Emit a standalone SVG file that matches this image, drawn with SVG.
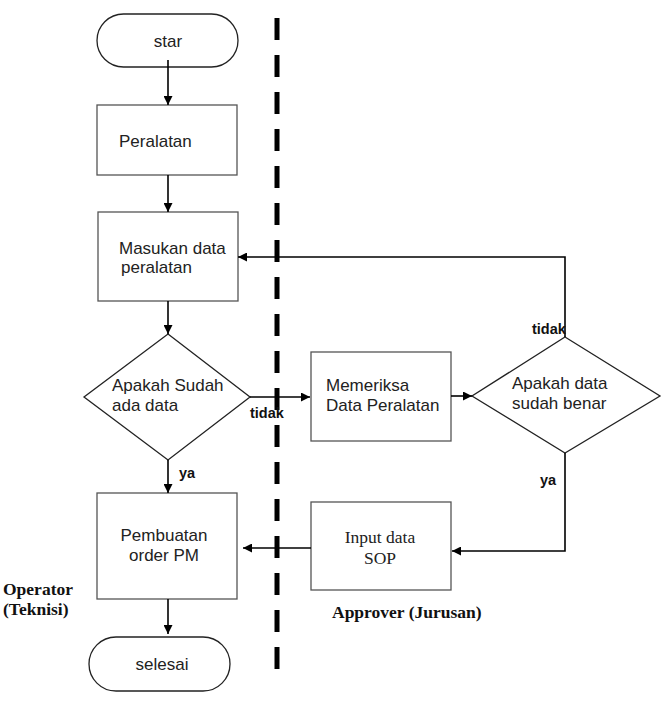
<svg xmlns="http://www.w3.org/2000/svg" width="665" height="715" viewBox="0 0 665 715">
<style>
.box{fill:#fff;stroke:#555;stroke-width:1.3}
.term{fill:#fff;stroke:#222;stroke-width:1.3}
.dia{fill:#fff;stroke:#222;stroke-width:1.3}
.t{font-family:"Liberation Sans",Arial,sans-serif;font-size:17px;fill:#222}
.s{font-family:"Liberation Serif","Times New Roman",serif;font-size:17.5px;fill:#222}
.b{font-family:"Liberation Sans",Arial,sans-serif;font-size:14.5px;font-weight:bold;fill:#111}
.bs{font-family:"Liberation Serif","Times New Roman",serif;font-size:17.5px;font-weight:bold;fill:#111}
.c{fill:none;stroke:#000;stroke-width:1.6}
</style>
<defs>
<marker id="ah" viewBox="0 0 10 10" refX="10" refY="5" markerWidth="10" markerHeight="9" markerUnits="userSpaceOnUse" orient="auto">
<path d="M0,0 L10,5 L0,10 z" fill="#000"/>
</marker>
</defs>
<line x1="277" y1="18" x2="277" y2="672" stroke="#000" stroke-width="5" stroke-dasharray="22 15"/>
<g id="start"><rect class="term" x="97" y="14" width="141" height="53" rx="26.5"/><text class="t" x="168" y="47" text-anchor="middle">star</text></g>
<g id="peralatan"><rect class="box" x="97" y="105" width="140" height="70"/><text class="t" x="119" y="147">Peralatan</text></g>
<g id="masukan"><rect class="box" x="98" y="212" width="140" height="89"/><text class="t" x="119" y="254">Masukan data</text><text class="t" x="121" y="273">peralatan</text></g>
<g id="cek1"><polygon class="dia" points="168,334 250,397 168,460 84,397"/><text class="t" x="112" y="391">Apakah Sudah</text><text class="t" x="112" y="411">ada data</text></g>
<g id="pembuatan"><rect class="box" x="97" y="493" width="140" height="106"/><text class="t" x="164" y="541" text-anchor="middle">Pembuatan</text><text class="t" x="164" y="561" text-anchor="middle">order PM</text></g>
<g id="selesai"><rect class="term" x="89" y="637" width="141" height="54" rx="27"/><text class="t" x="162" y="670" text-anchor="middle">selesai</text></g>
<g id="memeriksa"><rect class="box" x="311" y="352" width="140" height="89"/><text class="t" x="326" y="391">Memeriksa</text><text class="t" x="326" y="411">Data Peralatan</text></g>
<g id="cek2"><polygon class="dia" points="565,337 660,396 565,453 472,396"/><text class="t" x="512" y="389">Apakah data</text><text class="t" x="512" y="409">sudah benar</text></g>
<g id="inputsop"><rect class="box" x="311" y="502" width="140" height="88"/><text class="s" x="380" y="543" text-anchor="middle">Input data</text><text class="s" x="380" y="564" text-anchor="middle">SOP</text></g>
<g id="lanes"><text class="bs" x="3" y="595">Operator</text><text class="bs" x="3" y="615">(Teknisi)</text><text class="bs" x="332" y="618">Approver (Jurusan)</text></g>
<g id="connectors">
<line class="c" x1="168" y1="60" x2="168" y2="105" marker-end="url(#ah)"/>
<line class="c" x1="168" y1="175" x2="168" y2="212" marker-end="url(#ah)"/>
<line class="c" x1="168" y1="301" x2="168" y2="334" marker-end="url(#ah)"/>
<line class="c" x1="168" y1="460" x2="168" y2="493" marker-end="url(#ah)"/>
<line class="c" x1="250" y1="397" x2="310" y2="397" marker-end="url(#ah)"/>
<line class="c" x1="451" y1="396" x2="472" y2="396" marker-end="url(#ah)"/>
<polyline class="c" points="565,337 565,257 238,257" marker-end="url(#ah)"/>
<polyline class="c" points="565,453 565,551 452,551" marker-end="url(#ah)"/>
<line class="c" x1="311" y1="548" x2="243" y2="548" marker-end="url(#ah)"/>
<line class="c" x1="168" y1="599" x2="168" y2="634" marker-end="url(#ah)"/>
<text class="b" x="250" y="418">tidak</text>
<text class="b" x="179" y="478">ya</text>
<text class="b" x="532" y="334">tidak</text>
<text class="b" x="540" y="485">ya</text>
</g>
</svg>
